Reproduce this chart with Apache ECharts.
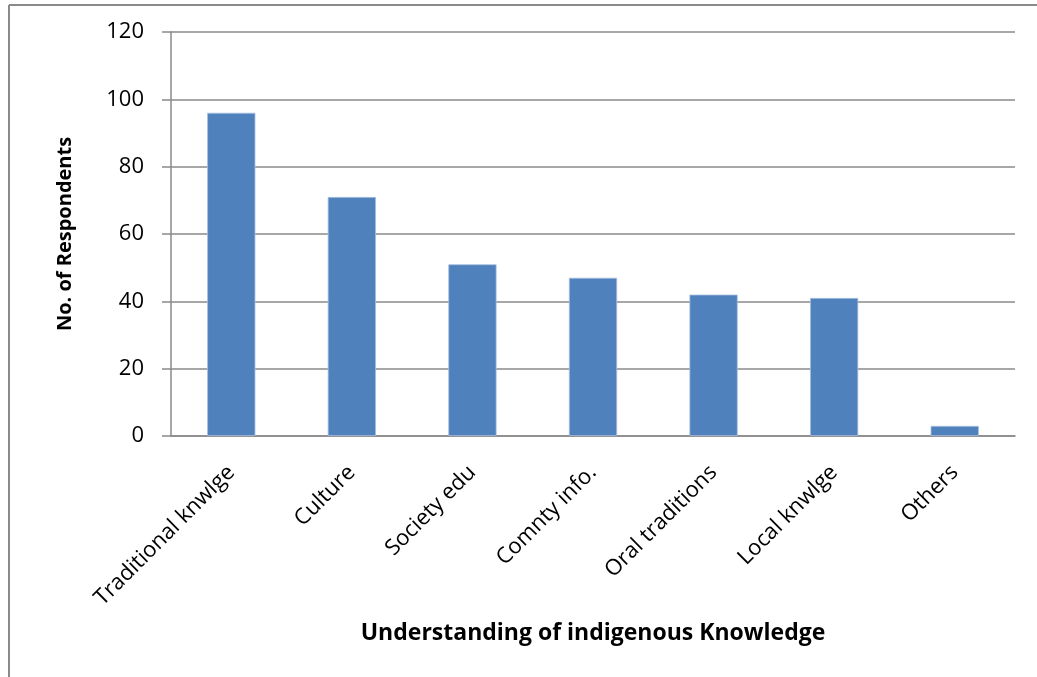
<!DOCTYPE html>
<html>
<head>
<meta charset="utf-8">
<script src="https://cdn.jsdelivr.net/npm/echarts@6/dist/echarts.min.js"></script>
<style>
  html, body { margin: 0; padding: 0; background: #fff; }
  #chart { width: 1037px; height: 677px; }
</style>
</head>
<body>
<div id="chart"></div>
<script>
// categories and counts
const categories = ['Traditional knwlge', 'Culture', 'Society edu', 'Comnty info.', 'Oral traditions', 'Local knwlge', 'Others'];
const respondents = [96, 71, 51, 47, 42, 41, 3];

const chart = echarts.init(document.getElementById('chart'));
const font = 'Open Sans, Liberation Sans, sans-serif';

chart.setOption({
  animation: false,
  graphic: [
    // outer frame (top + left only, the picture is cropped)
    { type: 'line', shape: { x1: 9, y1: 5, x2: 1037, y2: 5 }, style: { stroke: '#8a8a8a', lineWidth: 2 } },
    { type: 'line', shape: { x1: 9, y1: 5, x2: 9, y2: 677 }, style: { stroke: '#8a8a8a', lineWidth: 2 } }
  ],
  grid: { left: 171, right: 22, top: 32, bottom: 241 },
  xAxis: {
    type: 'category',
    data: categories,
    name: 'Understanding of indigenous Knowledge',
    nameLocation: 'middle',
    nameGap: 186,
    nameTextStyle: { fontFamily: font, fontWeight: 'bold', fontSize: 23, color: '#000' },
    axisLine: { lineStyle: { color: '#8a8a8a', width: 1.5 } },
    axisTick: { show: false },
    axisLabel: { rotate: 45, fontFamily: font, fontSize: 22, color: '#000', margin: 33, interval: 0 }
  },
  yAxis: {
    type: 'value',
    min: 0, max: 120, interval: 20,
    name: 'No. of Respondents',
    nameLocation: 'middle',
    nameGap: 96,
    nameTextStyle: { fontFamily: font, fontWeight: 'bold', fontSize: 20, color: '#000' },
    axisLine: { show: true, lineStyle: { color: '#8a8a8a', width: 1.5 } },
    axisTick: { show: true, inside: false, length: 9, lineStyle: { color: '#8a8a8a', width: 1.5 } },
    splitLine: { lineStyle: { color: '#8a8a8a', width: 1.5 } },
    axisLabel: { fontFamily: font, fontSize: 22, color: '#000', margin: 27 }
  },
  series: [{
    type: 'bar',
    data: respondents,
    barWidth: '40%',
    itemStyle: { color: '#4F81BD', borderColor: '#a9c0e0', borderWidth: 0.8 }
  }]
});
</script>
</body>
</html>
